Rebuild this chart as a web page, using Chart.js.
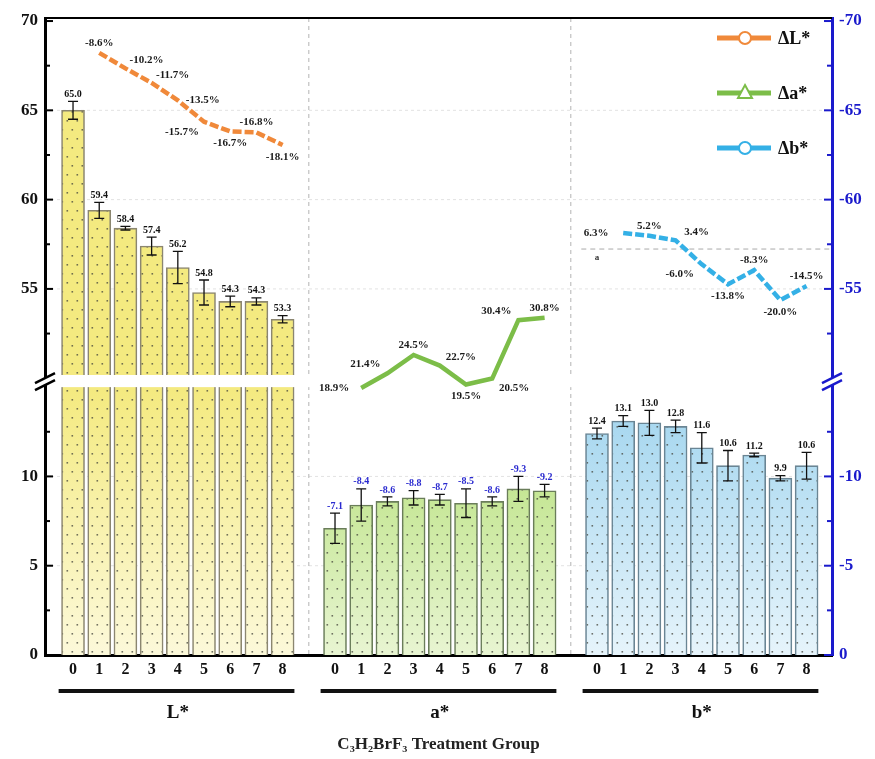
<!DOCTYPE html>
<html><head><meta charset="utf-8">
<script src="https://cdn.jsdelivr.net/npm/chart.js@4.4.0/dist/chart.umd.min.js"></script>
<style>html,body{margin:0;padding:0;background:#fff;}#wrap{width:875px;height:759px;position:relative;}</style>
</head><body><div id="wrap"><canvas id="c" width="875" height="759"></canvas></div>
<script>
// ---------- data ----------
const categories = ['0','1','2','3','4','5','6','7','8'];
const groups = ['L*','a*','b*'];
const Lvals = [65.0,59.4,58.4,57.4,56.2,54.8,54.3,54.3,53.3];
const Lerr  = [0.5,0.45,0.1,0.5,0.9,0.7,0.3,0.2,0.2];
const avals = [7.1,8.4,8.6,8.8,8.7,8.5,8.6,9.3,9.2];
const aerr  = [0.85,0.9,0.25,0.4,0.3,0.8,0.25,0.7,0.35];
const bvals = [12.4,13.1,13.0,12.8,11.6,10.6,11.2,9.9,10.6];
const berr  = [0.3,0.3,0.7,0.35,0.85,0.85,0.1,0.15,0.75];
const dL = [-8.6,-10.2,-11.7,-13.5,-15.7,-16.7,-16.8,-18.1];
const da = [18.9,21.4,24.5,22.7,19.5,20.5,30.4,30.8];
const db = [6.3,5.2,3.4,-6.0,-13.8,-8.3,-20.0,-14.5];
const leftTickValues = [0,2.5,5,7.5,10,12.5,52.5,55,57.5,60,62.5,65,67.5,70];
const lineNames = ['ΔL*','Δa*','Δb*'];
const xTitle = 'C₃H₂BrF₃ Treatment Group';
// label placement keywords (style only)
const dLpos = ['a','ar','ar','r','bl','b','a','b'];
const dapos = ['l','al','a','ar','b','br','al','a'];
const dbpos = ['l','a','ar','bl','b','a','b','a'];

// ---------- helpers ----------
const FONT = "'Liberation Serif','Times New Roman',serif";
const CUT = 15.5, SHIFT = 34.5;
const brk = v => v <= CUT ? v : v - SHIFT;
const unbrk = d => d <= CUT + 1e-9 ? d : d + SHIFT;
const Y_MAX = 35.67;
const dispTicks = leftTickValues.map(brk);
const slot = (g,i) => g*10 + i;
const xSlots = [];
for (let g=0; g<3; g++) categories.forEach((c,i)=>xSlots.push(slot(g,i)));
const isMajor = r => Math.abs(r/5 - Math.round(r/5)) < 1e-6;

const cv = document.getElementById('c');
const mctx = cv.getContext('2d');
function makePattern(top, pale){
  const c = document.createElement('canvas'); c.width = 10; c.height = 759;
  const g = c.getContext('2d');
  const gr = g.createLinearGradient(0,390,0,655);
  gr.addColorStop(0, top); gr.addColorStop(1, pale);
  g.fillStyle = gr; g.fillRect(0,0,10,759);
  g.fillStyle = 'rgba(70,70,60,0.75)';
  let row = 0;
  for (let y=3; y<759; y+=9, row++){ const x = row%2 ? 6.5 : 1.5; g.fillRect(x,y,1.6,1.6); }
  return mctx.createPattern(c,'repeat');
}
const barStyles = [
  {vals:Lvals, err:Lerr, top:'#f4ea80', pale:'#fcf9da', border:'#8b8670', labColor:'#111', prefix:''},
  {vals:avals, err:aerr, top:'#b0de70', pale:'#e8f5d2', border:'#6a7d5a', labColor:'#2a2ad0', prefix:'-'},
  {vals:bvals, err:berr, top:'#a0d4ee', pale:'#e6f4fb', border:'#6a8594', labColor:'#111', prefix:''}
];
const lineStyles = [
  {vals:dL, axis:'yL', g:0, color:'#f0893a', dash:[9,3], pos:dLpos, marker:'circle'},
  {vals:da, axis:'ya', g:1, color:'#7cbd48', dash:[], pos:dapos, marker:'triangle'},
  {vals:db, axis:'yb', g:2, color:'#34b0e6', dash:[9,3], pos:dbpos, marker:'circle'}
];
const OFF = {a:[0,-10], b:[0,12], l:[-27,0], r:[25,0], al:[-22,-9], ar:[21,-8], bl:[-22,10], br:[22,10]};

const datasets = [];
barStyles.forEach((s,g)=>{
  datasets.push({type:'bar', label:groups[g], data:s.vals.map((v,i)=>({x:slot(g,i), y:brk(v)})),
    backgroundColor:makePattern(s.top,s.pale), borderColor:s.border, borderWidth:1.6,
    barThickness:23, grouped:false, order:10, xAxisID:'x', yAxisID:'y'});
});
lineStyles.forEach((s,k)=>{
  datasets.push({type:'line', label:lineNames[k], data:s.vals.map((v,i)=>({x:slot(s.g,i+1), y:v})),
    borderColor:s.color, borderWidth:4.5, borderDash:s.dash, pointRadius:0, tension:0, fill:false,
    order:1, xAxisID:'x', yAxisID:s.axis});
});

const deco = {
  id:'deco',
  beforeDatasetsDraw(chart){
    const {ctx, chartArea:a, scales:{x,y,yb}} = chart;
    ctx.save();
    ctx.strokeStyle = '#e2e2e2'; ctx.lineWidth = 1; ctx.setLineDash([3,3]);
    leftTickValues.filter(v=>isMajor(v) && v>0 && v<70).forEach(v=>{
      const py = y.getPixelForValue(brk(v));
      ctx.beginPath(); ctx.moveTo(a.left, py); ctx.lineTo(a.right, py); ctx.stroke();
    });
    ctx.strokeStyle = '#b4b4b4'; ctx.setLineDash([4,4]);
    [9,19].forEach(s=>{ const px = x.getPixelForValue(s);
      ctx.beginPath(); ctx.moveTo(px, a.top); ctx.lineTo(px, a.bottom); ctx.stroke(); });
    const zy = yb.getPixelForValue(0);
    ctx.strokeStyle = '#aaaaaa'; ctx.setLineDash([5,4]);
    ctx.beginPath(); ctx.moveTo(x.getPixelForValue(19.4), zy); ctx.lineTo(a.right, zy); ctx.stroke();
    ctx.setLineDash([]);
    ctx.fillStyle = '#333'; ctx.font = 'bold 9px '+FONT; ctx.textAlign='center'; ctx.textBaseline='middle';
    ctx.fillText('a', x.getPixelForValue(20), zy+9);
    ctx.restore();
  },
  afterDatasetDraw(chart, args){
    if (args.index !== 0) return;
    const {ctx, chartArea:a, scales:{y}} = chart;
    const y1 = y.getPixelForValue(15.68), y2 = y.getPixelForValue(15.0);
    ctx.save(); ctx.fillStyle = '#fff'; ctx.fillRect(a.left+2, y1, a.right-a.left-4, y2-y1); ctx.restore();
  },
  afterDatasetsDraw(chart){
    const {ctx, chartArea:a, scales:{x,y,y2}} = chart;
    ctx.save();
    // error bars + value labels
    barStyles.forEach((s,g)=>{
      s.vals.forEach((v,i)=>{
        const px = x.getPixelForValue(slot(g,i));
        const pt = y.getPixelForValue(brk(v+s.err[i])), pb = y.getPixelForValue(brk(v-s.err[i]));
        ctx.strokeStyle = '#111'; ctx.lineWidth = 1.3;
        ctx.beginPath(); ctx.moveTo(px,pt); ctx.lineTo(px,pb);
        ctx.moveTo(px-5,pt); ctx.lineTo(px+5,pt); ctx.moveTo(px-5,pb); ctx.lineTo(px+5,pb); ctx.stroke();
        ctx.fillStyle = s.labColor; ctx.font = 'bold 10px '+FONT; ctx.textAlign='center'; ctx.textBaseline='bottom';
        ctx.fillText(s.prefix + v.toFixed(1), px, pt-2);
      });
    });
    // percent labels on lines
    ctx.font = 'bold 11px '+FONT; ctx.fillStyle = '#1a1a1a'; ctx.textAlign='center'; ctx.textBaseline='middle';
    lineStyles.forEach(s=>{
      const sc = chart.scales[s.axis];
      s.vals.forEach((v,i)=>{
        const px = x.getPixelForValue(slot(s.g,i+1)), py = sc.getPixelForValue(v);
        const o = OFF[s.pos[i]];
        ctx.fillText(v.toFixed(1)+'%', px+o[0], py+o[1]);
      });
    });
    // top border
    ctx.strokeStyle = '#000'; ctx.lineWidth = 2;
    ctx.beginPath(); ctx.moveTo(a.left, a.top); ctx.lineTo(a.right, a.top); ctx.stroke();
    // inward ticks
    leftTickValues.forEach(r=>{
      const py = y.getPixelForValue(brk(r)); const len = isMajor(r) ? 8 : 5;
      ctx.strokeStyle = '#000'; ctx.lineWidth = 2;
      ctx.beginPath(); ctx.moveTo(a.left, py); ctx.lineTo(a.left+len, py); ctx.stroke();
      ctx.strokeStyle = '#1a1acc';
      ctx.beginPath(); ctx.moveTo(a.right, py); ctx.lineTo(a.right-len, py); ctx.stroke();
    });
    // axis break marks
    const by = y.getPixelForValue(15.34);
    [[a.left,'#000'],[a.right,'#1a1acc']].forEach(([bx,col])=>{
      ctx.fillStyle = '#fff';
      ctx.beginPath(); ctx.moveTo(bx-10,by+2); ctx.lineTo(bx+10,by-8); ctx.lineTo(bx+10,by-1); ctx.lineTo(bx-10,by+9); ctx.closePath(); ctx.fill();
      ctx.strokeStyle = col; ctx.lineWidth = 2.5;
      ctx.beginPath(); ctx.moveTo(bx-10,by+2); ctx.lineTo(bx+10,by-8); ctx.moveTo(bx-10,by+9); ctx.lineTo(bx+10,by-1); ctx.stroke();
    });
    // legend
    lineStyles.forEach((s,k)=>{
      const ly = 38 + k*55;
      ctx.strokeStyle = s.color; ctx.lineWidth = 5;
      ctx.beginPath(); ctx.moveTo(717, ly); ctx.lineTo(771, ly); ctx.stroke();
      ctx.fillStyle = '#fff'; ctx.lineWidth = 2;
      ctx.beginPath();
      if (s.marker === 'circle') ctx.arc(745, ly, 6, 0, Math.PI*2);
      else { ctx.moveTo(745, ly-8); ctx.lineTo(752, ly+5); ctx.lineTo(738, ly+5); ctx.closePath(); }
      ctx.fill(); ctx.stroke();
      ctx.fillStyle = '#111'; ctx.font = 'bold 18px '+FONT; ctx.textAlign='left'; ctx.textBaseline='middle';
      ctx.fillText(lineNames[k], 778, ly+1);
    });
    // group underlines and labels
    groups.forEach((gname,g)=>{
      const x0 = x.getPixelForValue(slot(g,0)-0.55), x1 = x.getPixelForValue(slot(g,8)+0.45);
      ctx.strokeStyle = '#111'; ctx.lineWidth = 4;
      ctx.beginPath(); ctx.moveTo(x0, 691); ctx.lineTo(x1, 691); ctx.stroke();
      ctx.fillStyle = '#111'; ctx.font = 'bold 19px '+FONT; ctx.textAlign='center'; ctx.textBaseline='middle';
      ctx.fillText(gname, x.getPixelForValue(slot(g,4)), 713);
    });
    ctx.restore();
  }
};

new Chart(cv, {
  type:'bar',
  data:{datasets},
  options:{
    responsive:false, animation:false, devicePixelRatio:1,
    layout:{padding:{top:18,left:0,right:0,bottom:0}},
    plugins:{legend:{display:false}, tooltip:{enabled:false}},
    scales:{
      x:{type:'linear', min:-1.07, max:28.97, offset:false,
        grid:{display:false, drawTicks:false}, border:{display:true, color:'#000', width:3},
        afterBuildTicks:s=>{ s.ticks = xSlots.map(v=>({value:v})); },
        afterFit:s=>{ s.height = 104; },
        ticks:{autoSkip:false, maxRotation:0, padding:5, color:'#111',
          font:{family:FONT, size:16, weight:'bold'},
          callback:v=>categories[Math.round(v)%10]},
        title:{display:true, text:xTitle, color:'#222', font:{family:FONT, size:17, weight:'bold'}, padding:{top:0,bottom:4}}
      },
      y:{type:'linear', position:'left', min:0, max:Y_MAX,
        grid:{display:false, drawTicks:false}, border:{display:true, color:'#000', width:3},
        afterBuildTicks:s=>{ s.ticks = dispTicks.map(v=>({value:v})); },
        afterFit:s=>{ s.width = 45; },
        ticks:{autoSkip:false, padding:7, color:'#111', font:{family:FONT, size:17, weight:'bold'},
          callback:v=>{ const r = Math.round(unbrk(v)*10)/10; return isMajor(r) ? String(r) : ''; }}
      },
      y2:{type:'linear', position:'right', min:0, max:Y_MAX,
        grid:{display:false, drawTicks:false}, border:{display:true, color:'#1a1acc', width:3},
        afterBuildTicks:s=>{ s.ticks = dispTicks.map(v=>({value:v})); },
        afterFit:s=>{ s.width = 43; },
        ticks:{autoSkip:false, padding:7, color:'#1a1acc', font:{family:FONT, size:17, weight:'bold'},
          callback:v=>{ const r = Math.round(unbrk(v)*10)/10; return isMajor(r) ? (r===0 ? '0' : '-'+r) : ''; }}
      },
      yL:{type:'linear', display:false, min:-70.66, max:-5.01},
      ya:{type:'linear', display:false, min:-26.35, max:81.61},
      yb:{type:'linear', display:false, min:-159.2, max:90.6}
    }
  },
  plugins:[deco]
});
</script></body></html>
